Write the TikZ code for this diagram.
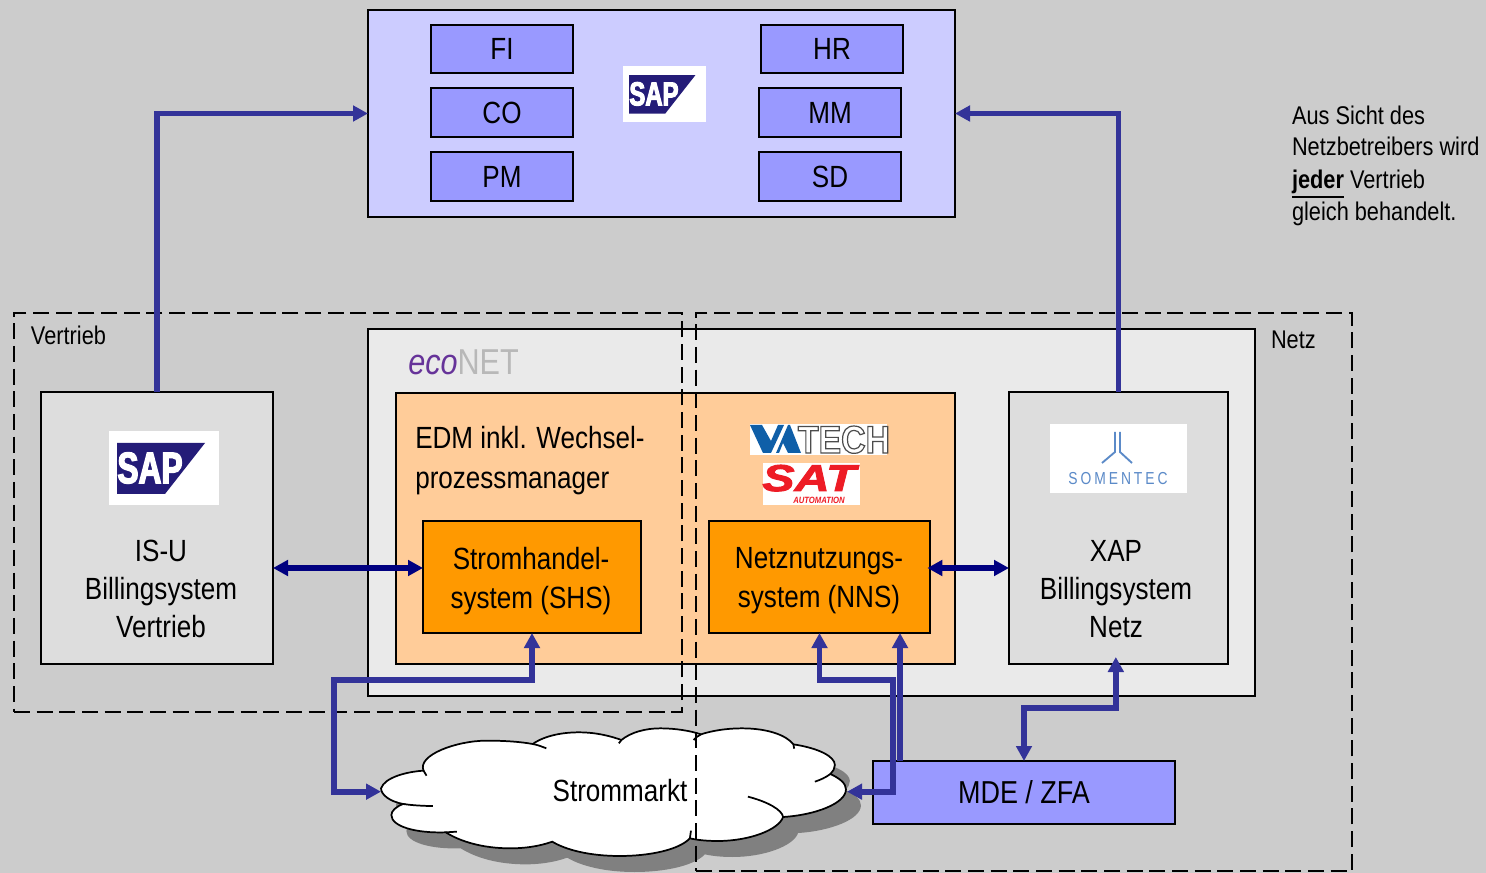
\documentclass[tikz,border=0pt]{standalone}
\usepackage{fontspec}
\setmainfont[FakeStretch=0.85]{Liberation Sans}
\newfontfamily\logofont[FakeStretch=0.72]{Liberation Sans}
\newfontfamily\satfont[FakeStretch=1.3]{Liberation Sans}
\newfontfamily\somfont[FakeStretch=0.8,LetterSpace=17]{Liberation Sans}
\newfontfamily\techfont[FakeStretch=0.875]{Liberation Sans}
\usetikzlibrary{arrows.meta}
\definecolor{bgc}{HTML}{CCCCCC}
\definecolor{sapbg}{HTML}{CCCCFF}
\definecolor{modc}{HTML}{9999FF}
\definecolor{econ}{HTML}{EAEAEA}
\definecolor{peach}{HTML}{FFCC99}
\definecolor{orng}{HTML}{FF9900}
\definecolor{sysg}{HTML}{DDDDDD}
\definecolor{arrowblue}{HTML}{333399}
\definecolor{navyc}{HTML}{000080}
\definecolor{sapnavy}{HTML}{241C78}
\definecolor{vablue}{HTML}{0F5FA8}
\definecolor{satred}{HTML}{EE1C25}
\definecolor{somblue}{HTML}{5B8AC8}
\definecolor{ecop}{HTML}{663399}
\definecolor{econg}{HTML}{B8B8B8}
\tikzset{
  boxn/.style={draw=black,line width=1.5pt,inner sep=0pt,outer sep=0pt,anchor=center,font=\fontsize{23}{28.7}\selectfont,align=center},
  lbl/.style={inner sep=0pt,outer sep=0pt,font=\fontsize{23}{29.2}\selectfont,align=center},
  sysl/.style={inner sep=0pt,outer sep=0pt,font=\fontsize{23}{28.5}\selectfont,align=center},
  side/.style={inner sep=0pt,outer sep=0pt,anchor=base west,font=\fontsize{19.2}{24}\selectfont},
  bluearrow/.style={draw=arrowblue,line width=4.3pt,-{Triangle[length=11.25pt,width=11.5pt]}},
  bluedouble/.style={draw=arrowblue,line width=4.3pt,{Triangle[length=11.25pt,width=11.5pt]}-{Triangle[length=11.25pt,width=11.5pt]}},
  navyarrow/.style={draw=navyc,line width=3.9pt,{Triangle[length=11.25pt,width=11.5pt]}-{Triangle[length=11.25pt,width=11.5pt]}},
  zone/.style={draw=black,line width=1.5pt,dash pattern=on 12pt off 5pt,inner sep=0pt,outer sep=0pt},
  cloudline/.style={draw=black,line width=1.3pt},
}
\newcommand{\pxbox}[7]{%
  \pgfmathsetmacro{\pxw}{(#4-#2)*0.75}%
  \pgfmathsetmacro{\pxh}{(#5-#3)*0.75}%
  \node[boxn,#6,minimum width=\pxw pt,minimum height=\pxh pt] (#1) at ({(#2+#4)/2},{(#3+#5)/2}) {#7};%
}
\newcommand{\saplogo}[4]{%
  \begin{scope}[shift={(#2,#3)},scale=#4,transform shape]
    \node[fill=white,inner sep=0pt,outer sep=0pt,minimum width=82.5pt,minimum height=55.5pt] (#1) at (55,37) {};
    \fill[sapnavy] (8,12) -- (96,12) -- (56,63) -- (8,63) -- cycle;
    \node[inner sep=0pt,text=white,font=\logofont\bfseries\fontsize{33}{33}\selectfont] (#1t) at (41,37) {\special{pdf:code 2 Tr 1 w 1 1 1 RG}SAP\special{pdf:code 0 Tr 0 w}};
  \end{scope}%
}
\def\cloudpath{(165,265) .. controls (175,232) and (235,215) .. (280,212)
 .. controls (262,165) and (370,122) .. (450,122) .. controls (500,122) and (540,125) .. (575,132)
 .. controls (610,105) and (660,97) .. (700,97) .. controls (750,97) and (790,110) .. (815,120)
 .. controls (840,97) and (880,85) .. (920,85) .. controls (960,85) and (1000,92) .. (1030,103)
 .. controls (1060,92) and (1100,85) .. (1140,85) .. controls (1210,85) and (1260,105) .. (1280,133)
 .. controls (1350,145) and (1392,170) .. (1392,195) .. controls (1392,205) and (1387,215) .. (1380,222)
 .. controls (1405,235) and (1422,250) .. (1422,268) .. controls (1422,310) and (1340,345) .. (1252,351)
 .. controls (1240,390) and (1160,423) .. (1075,423) .. controls (1045,423) and (1020,420) .. (1000,415)
 .. controls (970,450) and (890,468) .. (810,468) .. controls (730,468) and (665,450) .. (628,425)
 .. controls (590,440) and (550,445) .. (515,445) .. controls (440,445) and (380,425) .. (340,397)
 .. controls (260,400) and (193,380) .. (193,345) .. controls (193,333) and (205,320) .. (225,312)
 .. controls (190,305) and (165,285) .. (165,265) -- cycle}
\begin{document}
\begin{tikzpicture}[x=0.75pt,y=-0.75pt]
\useasboundingbox (0,0) rectangle (1486,873);
\fill[bgc] (0,0) rectangle (1486,873);
% SAP system
\pxbox{sapbox}{368}{10}{955}{217}{fill=sapbg}{}
\pxbox{fi}{431}{25}{573}{73}{fill=modc}{\raisebox{-0.75pt}{FI}}
\pxbox{co}{431}{88}{573}{137}{fill=modc}{\raisebox{-0.75pt}{CO}}
\pxbox{pm}{431}{152}{573}{201}{fill=modc}{\raisebox{-0.75pt}{PM}}
\pxbox{hr}{761}{25}{903}{73}{fill=modc}{\raisebox{-0.75pt}{HR}}
\pxbox{mm}{759}{88}{901}{137}{fill=modc}{\raisebox{-0.75pt}{MM}}
\pxbox{sd}{759}{152}{901}{201}{fill=modc}{SD}
\saplogo{saptop}{623}{66}{0.755}
% side note
\node[side] (note1) at (1292,125) {Aus Sicht des};
\node[side] (note2) at (1292,156) {Netzbetreibers wird};
\node[side] (note3) at (1292,188.5) {\vtop{\hbox{\textbf{jeder}}\kern 1.5pt\hrule height 1.5pt}\ Vertrieb};
\node[side] (note4) at (1292,220.5) {gleich behandelt.};
% large boxes
\pxbox{econet}{368}{329}{1255}{696}{fill=econ}{}
\node[inner sep=0pt,anchor=base west,font=\fontsize{27}{30}\selectfont] (econame) at (408,375) {\textcolor{ecop}{\itshape eco}\textcolor{econg}{NET}};
\pxbox{edm}{396}{393}{955}{664}{fill=peach}{}
\pxbox{isu}{41}{392}{273}{664}{fill=sysg}{}
\pxbox{xap}{1009}{392}{1228}{664}{fill=sysg}{}
\pxbox{shs}{423}{521}{641}{633}{fill=orng}{}
\pxbox{nns}{709}{521}{930}{633}{fill=orng}{}
\pxbox{mde}{873}{761}{1175}{824}{fill=modc,font=\fontsize{23.8}{28}\selectfont}{\raisebox{-0.75pt}{MDE / ZFA}}
% labels
\node[sysl] (isutxt) at (161,589) {IS-U\\Billingsystem\\Vertrieb};
\node[sysl] (xaptxt) at (1116,589) {XAP\\Billingsystem\\Netz};
\node[inner sep=0pt,anchor=base west,font=\fontsize{23}{29}\selectfont] (edmt1) at (415,449) {EDM inkl. Wechsel-};
\node[inner sep=0pt,anchor=base west,font=\fontsize{23}{29}\selectfont] (edmt2) at (415,489) {prozessmanager};
\node[lbl] (shstxt) at (531,581) {Stromhandel-\\system (SHS)};
\node[lbl] (nnstxt) at (819,581) {Netznutzungs-\\system (NNS)};
% logos
\saplogo{sapisu}{109}{431}{1}
\node[fill=white,inner sep=0pt,outer sep=0pt,minimum width=102.75pt,minimum height=23.25pt] (valogo) at (818.5,439.5) {};
\fill[vablue] (750,425) -- (762,425) -- (771,441) -- (778,425) -- (784,425) -- (771,453) -- (763,453) -- cycle;
\fill[vablue] (776,453) -- (788,425) -- (790,425) -- (801,453) -- (788,453) -- (783,443) -- (779,453) -- cycle;
\node[inner sep=0pt,anchor=base,text=white,font=\techfont\bfseries\fontsize{29}{29}\selectfont] (vatech) at (844,453) {\special{pdf:code 2 Tr 0.9 w 0.3 0.3 0.3 RG}TECH\special{pdf:code 0 Tr 0 w}};
\node[fill=white,inner sep=0pt,outer sep=0pt,minimum width=72.75pt,minimum height=31.5pt] (satlogo) at (811.5,484) {};
\node[inner sep=0pt,anchor=base,text=satred,font=\satfont\bfseries\itshape\fontsize{28}{28}\selectfont] (sat) at (809,491) {\special{pdf:code 2 Tr 0.7 w 0.93 0.11 0.15 RG}SAT\special{pdf:code 0 Tr 0 w}};
\node[inner sep=0pt,anchor=base,text=satred,font=\bfseries\itshape\fontsize{6.8}{7}\selectfont] (satauto) at (819,504) {AUTOMATION};
\node[fill=white,inner sep=0pt,outer sep=0pt,minimum width=102.75pt,minimum height=51.75pt] (somlogo) at (1118.5,458.5) {};
\draw[somblue,line width=1.4pt] (1115,432) -- (1115,452) -- (1102,463);
\draw[somblue,line width=1.4pt] (1120,432) -- (1120,452) -- (1132,463);
\node[inner sep=0pt,anchor=center,text=somblue,font=\somfont\fontsize{13}{14}\selectfont] (somtext) at (1118,479) {SOMENTEC};
% cloud
\begin{scope}[shift={(335,716)},x=0.2774pt,y=-0.25pt]
  \fill[black!50] \cloudpath;
\end{scope}
\begin{scope}[shift={(320,700)},x=0.2774pt,y=-0.25pt]
  \filldraw[fill=white,cloudline] \cloudpath;
  \draw[cloudline] (280,212) .. controls (282,218) and (285,222) .. (288,227);
  \draw[cloudline] (575,132) .. controls (590,135) and (600,140) .. (612,145);
  \draw[cloudline] (815,120) -- (808,130);
  \draw[cloudline] (1030,103) .. controls (1022,108) and (1015,113) .. (1010,120);
  \draw[cloudline] (1280,133) -- (1282,146);
  \draw[cloudline] (1380,222) .. controls (1368,232) and (1352,240) .. (1338,245);
  \draw[cloudline] (1252,351) .. controls (1250,330) and (1210,305) .. (1157,290);
  \draw[cloudline] (1000,415) -- (1003,392);
  \draw[cloudline] (340,397) -- (370,395);
  \draw[cloudline] (225,312) .. controls (250,316) and (280,318) .. (305,318);
  \coordinate (cloudW) at (165,275);
  \coordinate (cloudE) at (1425,275);
\end{scope}
\node[lbl] (stromt) at (620,791) {Strommarkt};
% zones
\node[zone,minimum width=501pt,minimum height=299.25pt] (vertriebzone) at (348,512.5) {};
\node[zone,minimum width=492pt,minimum height=418.5pt] (netzzone) at (1024,592) {};
\node[side] (vlabel) at (31,345) {Vertrieb};
\node[side] (nlabel) at (1271,349) {Netz};
% connectors
\coordinate (ylink) at (0,568);
\coordinate (ysl) at (0,680);
\coordinate (ymde) at (0,708);
\draw[bluearrow] (isu.north) |- (sapbox.west);
\draw[bluearrow] (xap.north) |- (sapbox.east);
\draw[navyarrow] (isu.east |- ylink) -- (shs.west |- ylink);
\draw[navyarrow] ([xshift=-2pt]nns.east |- ylink) -- (xap.west |- ylink);
\coordinate (shsb) at (shs.south);
\coordinate (nnsb1) at (nns.south);
\coordinate (nnsb2) at ([xshift=60.4pt]nns.south);
\coordinate (xapb) at ([xshift=-2pt,yshift=5.25pt]xap.south);
\coordinate (slx) at (334,0);
\coordinate (mx) at (893,0);
\draw[bluedouble] (shsb) -- (shsb |- ysl) -| (slx |- cloudW) -- (cloudW);
\draw[bluearrow] (mde.north -| nnsb2) -- (nnsb2);
\draw[bluedouble] (nnsb1) -- (nnsb1 |- ysl) -| (mx |- cloudE) -- (cloudE);
\draw[bluedouble] (mde.north) -- (mde.north |- ymde) -| (xapb);
\end{tikzpicture}
\end{document}
